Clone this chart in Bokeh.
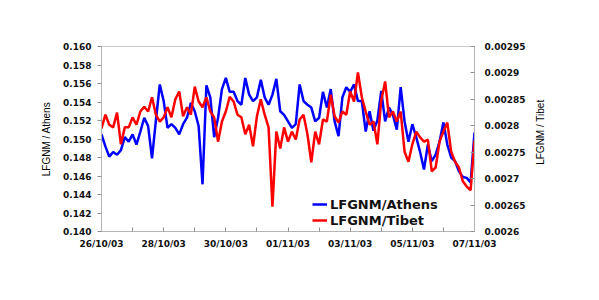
import math
import pandas as pd
from bokeh.plotting import figure
from bokeh.layouts import row
from bokeh.models import (Range1d, LinearAxis, FixedTicker, NumeralTickFormatter,
                          DatetimeTickFormatter, Legend, LegendItem, Label)
from bokeh.embed import file_html
from bokeh.resources import INLINE

# ---- data (3-hourly, 26/10/03 00:00 -> 07/11/03 00:00) ----
start_time = "2003-10-26 00:00"
step = "3h"

athens = [
    0.1505, 0.1492, 0.1481, 0.1486, 0.1483, 0.1488, 0.1502, 0.1497,
    0.1505, 0.1494, 0.1508, 0.1523, 0.1514, 0.1479, 0.1520, 0.1559,
    0.1541, 0.1512, 0.1516, 0.1512, 0.1505, 0.1516, 0.1523, 0.1539,
    0.1530, 0.1514, 0.1451, 0.1558, 0.1545, 0.1502, 0.1523, 0.1554,
    0.1566, 0.1551, 0.1551, 0.1541, 0.1537, 0.1566, 0.1548, 0.1541,
    0.1545, 0.1564, 0.1545, 0.1537, 0.1548, 0.1565, 0.1530, 0.1526,
    0.1519, 0.1512, 0.1516, 0.1559, 0.1541, 0.1537, 0.1534, 0.1519,
    0.1523, 0.1551, 0.1534, 0.1554, 0.1519, 0.1503, 0.1545, 0.1556,
    0.1551, 0.1559, 0.1541, 0.1541, 0.1508, 0.1530, 0.1509, 0.1520,
    0.1552, 0.1519, 0.1534, 0.1526, 0.1510, 0.1556, 0.1519, 0.1497,
    0.1516, 0.1502, 0.1486, 0.1467, 0.1494, 0.1476, 0.1483, 0.1497,
    0.1518, 0.1494, 0.1480, 0.1476, 0.1465, 0.1459, 0.1458, 0.1453,
    0.1507,
]

tibet = [
    0.002795, 0.002821, 0.002802, 0.002797, 0.002825, 0.002765, 0.002797, 0.002797,
    0.002816, 0.002802, 0.002827, 0.002836, 0.002827, 0.002854, 0.002821, 0.002808,
    0.002816, 0.002835, 0.002816, 0.002850, 0.002865, 0.002818, 0.002835, 0.002821,
    0.002874, 0.002846, 0.002835, 0.002854, 0.002827, 0.002816, 0.002770, 0.002808,
    0.002827, 0.002855, 0.002846, 0.002821, 0.002816, 0.002784, 0.002802, 0.002761,
    0.002818, 0.002850, 0.002821, 0.002797, 0.002647, 0.002789, 0.002757, 0.002797,
    0.002770, 0.002789, 0.002774, 0.002812, 0.002821, 0.002784, 0.002731, 0.002789,
    0.002765, 0.002812, 0.002808, 0.002859, 0.002818, 0.002806, 0.002827, 0.002821,
    0.002865, 0.002846, 0.002901, 0.002854, 0.002827, 0.002802, 0.002808, 0.002765,
    0.002848, 0.002884, 0.002816, 0.002827, 0.002808, 0.002827, 0.002751, 0.002732,
    0.002765, 0.002789, 0.002778, 0.002770, 0.002774, 0.002714, 0.002721, 0.002770,
    0.002789, 0.002806, 0.002751, 0.002732, 0.002721, 0.002695, 0.002685, 0.002678,
    0.002772,
]

x_tick_dates = ["2003-10-26", "2003-10-28", "2003-10-30", "2003-11-01",
                "2003-11-03", "2003-11-05", "2003-11-07"]
x_minor_dates = ["2003-10-27", "2003-10-29", "2003-10-31", "2003-11-02",
                 "2003-11-04", "2003-11-06"]

left_ticks = [0.140, 0.142, 0.144, 0.146, 0.148, 0.150, 0.152, 0.154, 0.156, 0.158, 0.160]
right_ticks = [0.0026, 0.00265, 0.0027, 0.00275, 0.0028, 0.00285, 0.0029, 0.00295]
right_tick_labels = ["0.0026", "0.00265", "0.0027", "0.00275", "0.0028",
                     "0.00285", "0.0029", "0.00295"]

series_names = ["LFGNM/Athens", "LFGNM/Tibet"]
left_label = "LFGNM / Athens"
right_label = "LFGNM / Tibet"

# ---- main figure ----
times = pd.date_range(start_time, periods=len(athens), freq=step)
t0 = pd.Timestamp(x_tick_dates[0])
t1 = pd.Timestamp(x_tick_dates[-1])

p = figure(width=530, height=300, x_axis_type="datetime",
           x_range=Range1d(t0, t1), y_range=Range1d(0.140, 0.160),
           output_backend="svg", toolbar_location=None,
           min_border_left=101, min_border_right=56,
           min_border_top=46, min_border_bottom=69)
p.extra_y_ranges = {"tibet": Range1d(0.0026, 0.00295)}
p.xgrid.visible = False
p.ygrid.visible = False
p.outline_line_color = "#c8c8c8"
p.background_fill_color = "white"
p.border_fill_color = "white"

tick_font = "DejaVu Sans"
axis_grey = "#b4b4b4"
tick_grey = "#909090"

# bottom axis
xa = p.xaxis[0]
ms = lambda d: pd.Timestamp(d).value / 1e6
xa.ticker = FixedTicker(ticks=[ms(d) for d in x_tick_dates],
                        minor_ticks=[ms(d) for d in x_minor_dates])
xa.formatter = DatetimeTickFormatter(days="%d/%m/%y", months="%d/%m/%y",
                                     hours="%d/%m/%y", years="%d/%m/%y")
xa.major_tick_in = 4
xa.major_tick_out = 0
xa.minor_tick_in = 4
xa.minor_tick_out = 0
xa.major_label_standoff = 7

# left axis
ya = p.yaxis[0]
ya.ticker = FixedTicker(ticks=left_ticks)
ya.formatter = NumeralTickFormatter(format="0.000")
ya.major_tick_in = 0
ya.major_tick_out = 4
ya.major_label_standoff = 6
ya.axis_label = left_label
ya.axis_label_standoff = 8

# right axis
ra = LinearAxis(y_range_name="tibet")
ra.ticker = FixedTicker(ticks=right_ticks)
ra.major_label_overrides = {v: s for v, s in zip(right_ticks, right_tick_labels)}
ra.major_tick_in = 4
ra.major_tick_out = 0
ra.major_label_standoff = 10
p.add_layout(ra, "right")

for ax in [xa, ya, ra]:
    ax.axis_line_color = axis_grey
    ax.major_tick_line_color = tick_grey
    ax.minor_tick_line_color = tick_grey if ax is xa else None
    ax.major_label_text_font = tick_font
    ax.major_label_text_font_style = "bold"
    ax.major_label_text_font_size = "9px"
    ax.major_label_text_color = "#111111"
    ax.axis_label_text_font = "Liberation Sans"
    ax.axis_label_text_font_style = "normal"
    ax.axis_label_text_font_size = "10px"
    ax.axis_label_text_color = "#000000"

r_a = p.line(times, athens, line_color="#0000ff", line_width=2.5)
r_t = p.line(times, tibet, line_color="#ff0000", line_width=2.5, y_range_name="tibet")

legend = Legend(items=[LegendItem(label=series_names[0], renderers=[r_a]),
                       LegendItem(label=series_names[1], renderers=[r_t])],
                location=(211, 3), orientation="vertical")
legend.border_line_color = None
legend.background_fill_alpha = 0
legend.padding = 0
legend.margin = 0
legend.spacing = 0
legend.glyph_width = 15
legend.glyph_height = 16
legend.label_height = 16
legend.label_standoff = 3
legend.label_text_font = tick_font
legend.label_text_font_style = "bold"
legend.label_text_font_size = "13px"
legend.label_text_color = "#111111"
p.add_layout(legend)

# ---- narrow panel holding the right-hand axis title (reads bottom to top) ----
q = figure(width=69, height=300, x_range=Range1d(0, 69), y_range=Range1d(0, 300),
           output_backend="svg", toolbar_location=None,
           min_border_left=0, min_border_right=0, min_border_top=0, min_border_bottom=0)
q.axis.visible = False
q.grid.visible = False
q.outline_line_color = None
q.add_layout(Label(x=10, y=161, text=right_label, angle=math.pi / 2,
                   text_align="center", text_baseline="middle",
                   text_font="Liberation Sans", text_font_size="10px",
                   text_color="#000000"))

layout = row(p, q, spacing=0)
open("out.html", "w").write(file_html(layout, INLINE))
